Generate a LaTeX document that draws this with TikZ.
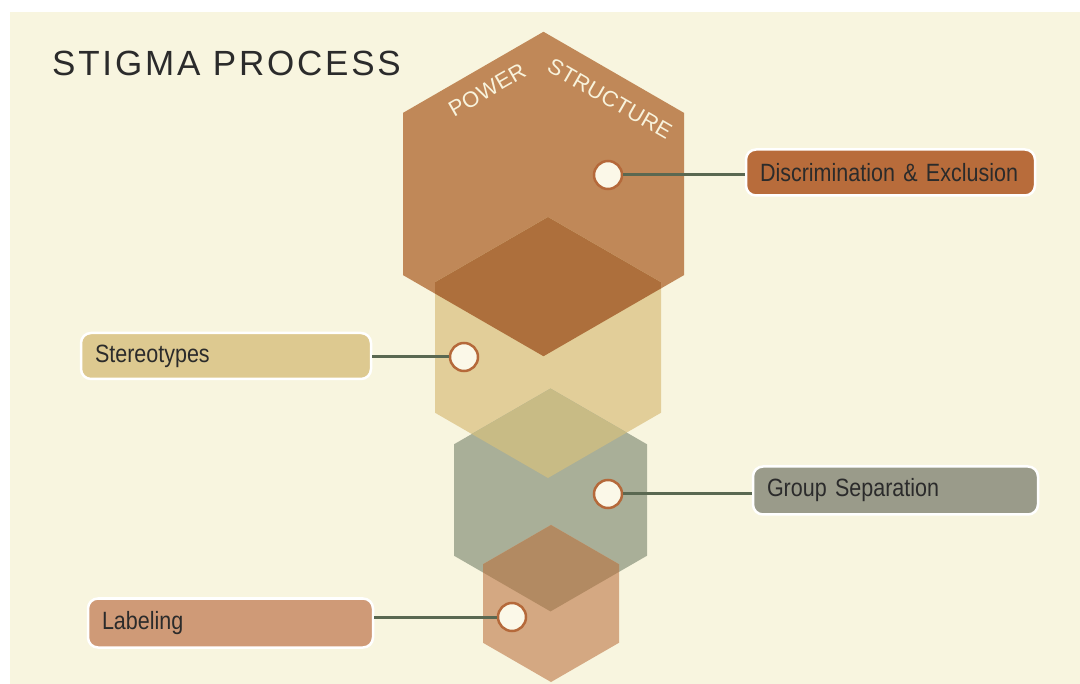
\documentclass[tikz,border=0pt]{standalone}
\usepackage{fontspec}
\setmainfont{Liberation Sans}
\newfontfamily\narrowfont[FakeStretch=0.86]{Liberation Sans}
\newfontfamily\titlefont[LetterSpace=8]{Liberation Sans}
\newfontfamily\hexfont[LetterSpace=2]{Liberation Sans}
\definecolor{bgcream}{HTML}{F8F5DF}
\definecolor{hexA}{HTML}{C08858}
\definecolor{hexAB}{HTML}{AD6F3C}
\definecolor{hexB}{HTML}{E2CE99}
\definecolor{hexBC}{HTML}{C8BB85}
\definecolor{hexC}{HTML}{A9AF98}
\definecolor{hexCD}{HTML}{B28A62}
\definecolor{hexD}{HTML}{D4A882}
\definecolor{dotfill}{HTML}{FBF8E8}
\definecolor{dotring}{HTML}{B5693A}
\definecolor{linkcol}{HTML}{5A6851}
\definecolor{boxA}{HTML}{B86C3B}
\definecolor{boxB}{HTML}{DDC990}
\definecolor{boxC}{HTML}{9A9B8A}
\definecolor{boxD}{HTML}{CF9A77}
\definecolor{txtdark}{HTML}{2B2B2B}
\definecolor{hextext}{HTML}{F8F3DC}
\newcommand{\hexpath}[3]{({#1},{#2-2*#3*0.57735}) -- ({#1+#3},{#2-#3*0.57735}) -- ({#1+#3},{#2+#3*0.57735}) -- ({#1},{#2+2*#3*0.57735}) -- ({#1-#3},{#2+#3*0.57735}) -- ({#1-#3},{#2-#3*0.57735}) -- cycle}
\tikzset{
  dot/.style={circle, draw=dotring, fill=dotfill, line width=2.5pt, minimum size=28pt, inner sep=0pt},
  labelbox/.style={draw=white, line width=2.5pt, rounded corners=10pt, text=txtdark, font=\narrowfont\fontsize{25}{28}\selectfont, align=left, inner xsep=14pt, inner ysep=0pt, minimum height=46pt, text width=257pt},
  link/.style={draw=linkcol, line width=3pt},
  hexlabel/.style={text=hextext, font=\hexfont\fontsize{22}{24}\selectfont, inner sep=0pt}
}
\begin{document}
\begin{tikzpicture}[x=1pt,y=-1pt]
\useasboundingbox (0,0) rectangle (1080,684);
\fill[bgcream] (10,12) rectangle (1080,684);
% hexagons
\fill[hexA] \hexpath{543.5}{194}{140.5};
\fill[hexB] \hexpath{548}{347.5}{113};
\fill[hexC] \hexpath{550.5}{500}{96.5};
\fill[hexD] \hexpath{551}{603.5}{68};
\begin{scope}
  \clip \hexpath{543.5}{194}{140.5};
  \fill[hexAB] \hexpath{548}{347.5}{113};
\end{scope}
\begin{scope}
  \clip \hexpath{548}{347.5}{113};
  \fill[hexBC] \hexpath{550.5}{500}{96.5};
\end{scope}
\begin{scope}
  \clip \hexpath{550.5}{500}{96.5};
  \fill[hexCD] \hexpath{551}{603.5}{68};
\end{scope}
% title
\node[anchor=base west, text=txtdark, font=\titlefont\fontsize{35}{40}\selectfont, inner sep=0pt] (title) at (52,76) {STIGMA PROCESS};
% hex labels
\node[hexlabel, rotate=30] (power) at (487,90) {POWER};
\node[hexlabel, rotate=-30] (structure) at (610,99) {STRUCTURE};
% dots
\node[dot] (c1) at (608,175) {};
\node[dot] (c2) at (464,357) {};
\node[dot] (c3) at (608,494) {};
\node[dot] (c4) at (512,617) {};
% label boxes
\node[labelbox, fill=boxA, text width=261pt] (b1) at (890.5,172.5) {Discrimination \& Exclusion};
\node[labelbox, fill=boxB, text width=262pt] (b2) at (226,356) {Stereotypes};
\node[labelbox, fill=boxC, text width=257pt, minimum height=48pt] (b3) at (895.5,490.5) {Group Separation};
\node[labelbox, fill=boxD, text width=257pt, minimum height=49pt] (b4) at (230.5,623) {Labeling};
% links
\path[link] (c1.east) -- (c1.east -| b1.west);
\path[link] (c2.west) -- (c2.west -| b2.east);
\path[link] (c3.east) -- (c3.east -| b3.west);
\path[link] (c4.west) -- (c4.west -| b4.east);
\end{tikzpicture}
\end{document}
